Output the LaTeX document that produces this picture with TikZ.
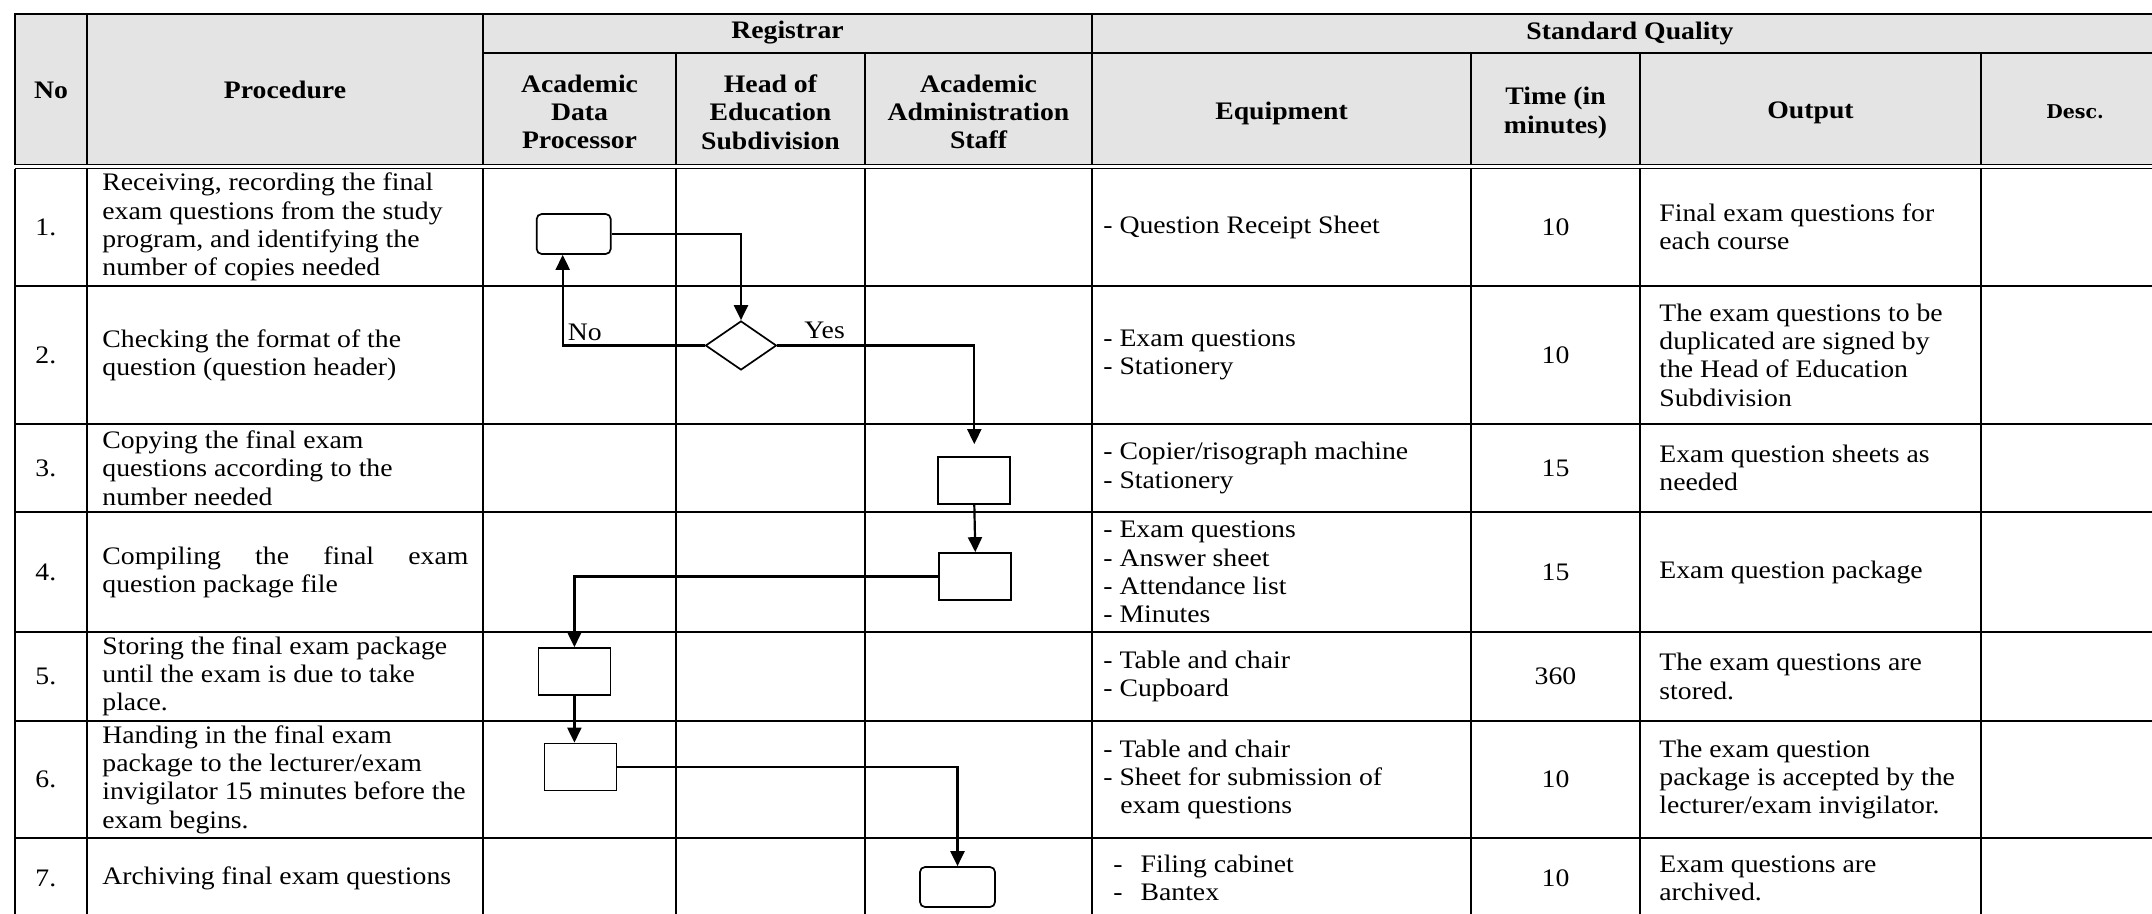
\documentclass[tikz,border=0pt]{standalone}
\usepackage{fontspec}
\setmainfont{Liberation Serif}[FakeStretch=1.1]
\newfontfamily\descfont{DejaVu Serif}
\usetikzlibrary{shapes.geometric,arrows.meta}
\definecolor{hdrgray}{RGB}{228,228,228}
\newcommand{\bodyfont}{\fontsize{12.6pt}{14.15pt}\selectfont}
\tikzset{
    every node/.style={font=\bodyfont},
    grid_line/.style={line width=0.9pt},
    hdr/.style={font=\bodyfont\bfseries, align=center, inner sep=0pt},
    txt/.style={align=left, inner sep=0pt, anchor=west},
    flow_box/.style={draw, line width=0.85pt, minimum width=36pt, minimum height=23.5pt, inner sep=0pt},
    term_box/.style={flow_box, rounded corners=2.5pt, minimum width=37pt, minimum height=20pt},
    decision/.style={draw, diamond, line width=0.85pt, minimum width=35.5pt, minimum height=24.5pt, inner sep=0pt},
    flow_arrow/.style={line width=1.1pt, -{Triangle[length=7.5pt,width=7pt]}}
}
\begin{document}
\begin{tikzpicture}[x=0.5pt, y=-0.5pt]
        \useasboundingbox (0,0) rectangle (2152,914);
        \fill[hdrgray] (15,14) rectangle (2152,164.8);
        \draw[grid_line] (15,164.8) -- (15,14) -- (2152,14);
        \draw[grid_line] (15,168.6) -- (15,914);
        \draw[grid_line] (483,53) -- (1092,53);
        \draw[line width=1.4pt] (1092,53) -- (2152,53);
        \foreach \xc in {87,483,1092} \draw[grid_line] (\xc,14) -- (\xc,164.8);
        \foreach \xc in {676,865,1471,1640,1981} \draw[grid_line] (\xc,53) -- (\xc,164.8);
        \foreach \xc in {87,483,676,865,1092,1471,1640,1981} \draw[grid_line] (\xc,168.6) -- (\xc,914);
        \draw[line width=0.65pt] (15,164.8) -- (2152,164.8) (15,168.6) -- (2152,168.6);
        \foreach \yr in {286,424,512,632,721,838} \draw[grid_line] (15,\yr) -- (2152,\yr);
        \node[hdr] (no_hd) at (51,90) {No};
        \node[hdr] (proc_hd) at (285,90) {Procedure};
        \node[hdr] (reg_hd) at (787.5,33) {Registrar};
        \node[hdr] (adp_hd) at (579.5,112) {Academic\\Data\\Processor};
        \node[hdr] (hoe_hd) at (770.5,112) {Head of\\Education\\Subdivision};
        \node[hdr] (aas_hd) at (978.5,112) {Academic\\Administration\\Staff};
        \node[hdr] (sq_hd) at (1630,33) {Standard Quality};
        \node[hdr] (eq_hd) at (1281.5,113) {Equipment};
        \node[hdr] (time_hd) at (1555.5,113) {Time (in\\minutes)};
        \node[hdr] (out_hd) at (1810.5,113) {Output};
        \node[hdr, font=\descfont\bfseries\fontsize{9.5pt}{11pt}\selectfont] (desc_hd) at (2075,112) {Desc.};
        \node[txt] (no_1) at (35,227) {1.};
        \node[txt] (no_2) at (35,355) {2.};
        \node[txt] (no_3) at (35,468) {3.};
        \node[txt] (no_4) at (35,572) {4.};
        \node[txt] (no_5) at (35,676.5) {5.};
        \node[txt] (no_6) at (35,779.5) {6.};
        \node[txt] (no_7) at (35,878) {7.};
        \node[txt] (proc_1) at (102,227) {Receiving, recording the final\\exam questions from the study\\program, and identifying the\\number of copies needed};
        \node[txt] (proc_2) at (102,355) {Checking the format of the\\question (question header)};
        \node[txt] (proc_3) at (102,468) {Copying the final exam\\questions according to the\\number needed};
        \node[txt, text width=183pt, align=justify] (proc_4) at (102,572) {Compiling the final exam\linebreak question package file};
        \node[txt] (proc_5) at (102,676.5) {Storing the final exam package\\until the exam is due to take\\place.};
        \node[txt] (proc_6) at (102,779.5) {Handing in the final exam\\package to the lecturer/exam\\invigilator 15 minutes before the\\exam begins.};
        \node[txt] (proc_7) at (102,878) {Archiving final exam questions};
        \node[txt] (eq_1) at (1103,227) {- Question Receipt Sheet};
        \node[txt] (eq_2) at (1103,355) {- Exam questions\\- Stationery};
        \node[txt] (eq_3) at (1103,468) {- Copier/risograph machine\\- Stationery};
        \node[txt] (eq_4) at (1103,572) {- Exam questions\\- Answer sheet\\- Attendance list\\- Minutes};
        \node[txt] (eq_5) at (1103,676.5) {- Table and chair\\- Cupboard};
        \node[txt] (eq_6) at (1103,779.5) {- Table and chair\\- Sheet for submission of\\\hspace*{8.5pt}exam questions};
        \node[txt] (eq_7) at (1113,878) {-\hspace{9pt}Filing cabinet\\-\hspace{9pt}Bantex};
        \node (time_1) at (1555.5,227) {10};
        \node (time_2) at (1555.5,355) {10};
        \node (time_3) at (1555.5,468) {15};
        \node (time_4) at (1555.5,572) {15};
        \node (time_5) at (1555.5,676.5) {360};
        \node (time_6) at (1555.5,779.5) {10};
        \node (time_7) at (1555.5,878) {10};
        \node[txt] (out_1) at (1659,227) {Final exam questions for\\each course};
        \node[txt] (out_2) at (1659,355) {The exam questions to be\\duplicated are signed by\\the Head of Education\\Subdivision};
        \node[txt] (out_3) at (1659,468) {Exam question sheets as\\needed};
        \node[txt] (out_4) at (1659,572) {Exam question package};
        \node[txt] (out_5) at (1659,676.5) {The exam questions are\\stored.};
        \node[txt] (out_6) at (1659,779.5) {The exam question\\package is accepted by the\\lecturer/exam invigilator.};
        \node[txt] (out_7) at (1659,878) {Exam questions are\\archived.};
        \node[term_box] (start_box) at (573.7,234) {};
        \node[decision] (check_dia) at (741,345.5) {};
        \node[flow_box] (copy_box) at (974.3,480.5) {};
        \node[flow_box] (pack_box) at (975.3,576.5) {};
        \node[flow_box] (store_box) at (574.4,671.5) {};
        \node[flow_box] (hand_box) at (580.4,767) {};
        \node[term_box, minimum width=37.5pt] (arch_box) at (957.5,887) {};
        \draw[flow_arrow] (start_box.east) -| (check_dia.north);
        \draw[flow_arrow] (check_dia.west) -| node[pos=0.5, anchor=south west, inner sep=2pt] (no_lbl) {No} ([xshift=-5.5pt]start_box.south);
        \draw[flow_arrow, shorten >=6pt] (check_dia.east) -| node[pos=0.12, above, inner sep=3pt] (yes_lbl) {Yes} (copy_box.north);
        \draw[flow_arrow] (copy_box.south) -- (pack_box.north);
        \draw[flow_arrow] (pack_box.west) -| (store_box.north);
        \draw[flow_arrow] (store_box.south) -- (store_box.south |- hand_box.north);
        \draw[flow_arrow] (hand_box.east) -| (arch_box.north);
    \end{tikzpicture}
\end{document}
